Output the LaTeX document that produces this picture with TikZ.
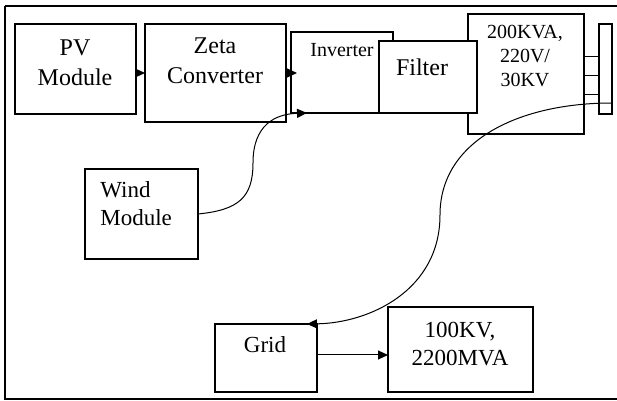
\documentclass[tikz,border=0pt]{standalone}
\usepackage{fontspec}
\setmainfont{Liberation Serif}
\usetikzlibrary{arrows.meta}
\tikzset{
  % Boxes are given by their top-left corner and size in pixels
  blk/.style 2 args={draw, line width=0.6pt, fill=white, inner sep=0pt,
    outer sep=0pt, anchor=north west, minimum width=#1*0.5pt, minimum height=#2*0.5pt},
  lbl/.style 2 args={align=center, inner sep=0pt, font=\fontsize{#1}{#2}\selectfont},
  wire/.style={line width=0.5pt, black, -{Triangle[length=5pt,width=4.5pt]}},
  tie/.style={line width=0.5pt, black}
}
\begin{document}
\begin{tikzpicture}[x=0.5pt, y=0.5pt]
\useasboundingbox (0,0) rectangle (617,-401);

% Frame (open on the right)
\draw[line width=0.8pt] (5,-6) -- (630,-6);
\draw[line width=0.8pt] (5,-6) -- (5,-399) -- (630,-399);

% Boxes (filter sits on top of inverter and transformer)
\node[blk={121}{90}]  (pv)    at (15,-24)  {};
\node[blk={141}{98}]  (zeta)  at (145,-24) {};
\node[blk={116}{120}] (trafo) at (468,-14) {};
\node[blk={102}{81}]  (inv)   at (291,-32) {};
\node[blk={98}{72}]   (filt)  at (379,-41) {};
\node[blk={13}{90}]   (bus)   at (599,-24) {};
\node[blk={113}{90}]  (wind)  at (85,-169) {};
\node[blk={102}{68}]  (grid)  at (215,-324) {};
\node[blk={145}{85}]  (load)  at (388,-307) {};

% Labels
\node[lbl={12}{15}]   (pvlbl)    at (75,-63)  {PV\\Module};
\node[lbl={12}{15}]   (zetalbl)  at (215,-61) {Zeta\\Converter};
\node[lbl={10}{12}]   (invlbl)   at (342,-50) {Inverter};
\node[lbl={12}{15}]   (filtlbl)  at (422,-67) {Filter};
\node[lbl={10}{12}]   (trafolbl) at (525,-56) {200KVA,\\220V/\\30KV};
\node[lbl={11.5}{14}, align=left, anchor=west] (windlbl) at (100,-204) {Wind\\Module};
\node[lbl={11.5}{14}] (gridlbl)  at (265,-345) {Grid};
\node[lbl={11.5}{14}] (loadlbl)  at (460,-344) {100KV,\\2200MVA};

% Wires
\draw[wire] (pv.east |- zeta.west) -- (zeta.west);
\draw[wire] (zeta.east) -- ([xshift=3pt]zeta.east -| inv.west);
\foreach \y in {57,76,95} {
  \draw[tie] (trafo.east |- 0,-\y) -- (bus.west |- 0,-\y);
}
\draw[wire] (wind.east) .. controls (238,-210) and (253,-198) .. (253,-163)
  .. controls (253,-125) and (275,-114) .. ([xshift=8pt]inv.south west);
\draw[wire] ([yshift=5.5pt]bus.south east) .. controls (520,-103) and (440,-140) .. (440,-215)
  .. controls (440,-290) and (370,-323) .. ([xshift=-5pt]grid.north east);
\draw[wire] ([yshift=1.5pt]grid.east) -- ([yshift=1.5pt]grid.east -| load.west);

\end{tikzpicture}
\end{document}
